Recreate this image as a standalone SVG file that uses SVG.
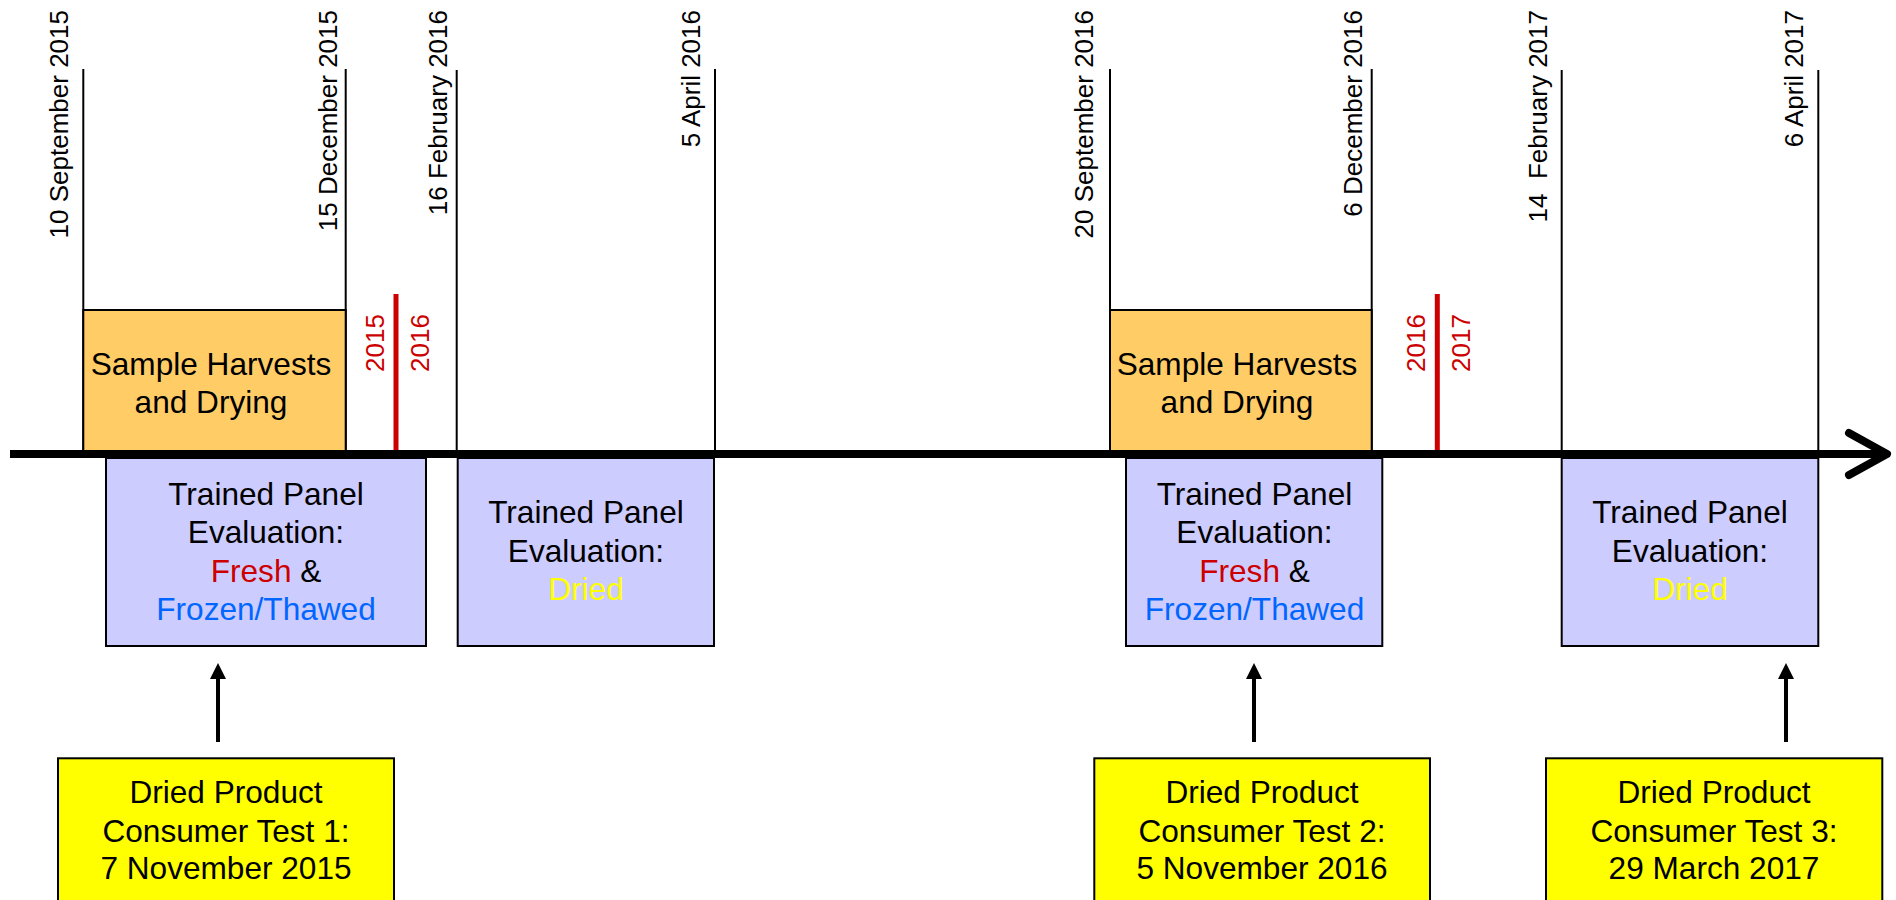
<svg xmlns="http://www.w3.org/2000/svg" width="1896" height="900" viewBox="0 0 1896 900">
  <style>
    text { font-family: "Liberation Sans", Arial, sans-serif; fill: #000; }
    .date { font-size: 26px; }
    .year { font-size: 26px; fill: #CC0000; }
    .lbl { font-size: 31.6px; text-anchor: middle; }
    .tick { stroke: #000; stroke-width: 2; fill: none; }
    .yearline { stroke: #CC0000; stroke-width: 5; }
    .harvest { fill: #FFCC66; stroke: #000; stroke-width: 2; }
    .panel { fill: #CCCCFF; stroke: #000; stroke-width: 2; }
    .consumer { fill: #FFFF00; stroke: #000; stroke-width: 2; }
    .fresh { fill: #CC0000; }
    .frozen { fill: #0066FF; }
    .dried { fill: #FFFF00; }
    .link { stroke: #000; stroke-width: 4; fill: none; }
  </style>
  <defs>
    <marker id="ah" viewBox="0 0 16 16" refX="9" refY="8" markerWidth="16" markerHeight="16" orient="auto" markerUnits="userSpaceOnUse">
      <path d="M0,0 L16,8 L0,16 Z" fill="#000"/>
    </marker>
  </defs>

  <!-- date ticks -->
  <g id="ticks">
    <line class="tick" x1="83.3" y1="69" x2="83.3" y2="454"/>
    <line class="tick" x1="345.7" y1="69" x2="345.7" y2="454"/>
    <line class="tick" x1="456.7" y1="70" x2="456.7" y2="454"/>
    <line class="tick" x1="715" y1="69" x2="715" y2="454"/>
    <line class="tick" x1="1110" y1="69" x2="1110" y2="454"/>
    <line class="tick" x1="1371.7" y1="69" x2="1371.7" y2="454"/>
    <line class="tick" x1="1561.7" y1="70" x2="1561.7" y2="454"/>
    <line class="tick" x1="1818.3" y1="70" x2="1818.3" y2="454"/>
  </g>

  <!-- date labels -->
  <g id="dates" text-anchor="end">
    <text class="date" transform="translate(68.3,10) rotate(-90)">10 September 2015</text>
    <text class="date" transform="translate(336.5,10) rotate(-90)">15 December 2015</text>
    <text class="date" transform="translate(446.7,10) rotate(-90)">16 February 2016</text>
    <text class="date" transform="translate(700,10) rotate(-90)">5 April 2016</text>
    <text class="date" transform="translate(1093.3,10) rotate(-90)">20 September 2016</text>
    <text class="date" transform="translate(1362.3,10) rotate(-90)">6 December 2016</text>
    <text class="date" transform="translate(1546.7,10) rotate(-90)" xml:space="preserve">14  February 2017</text>
    <text class="date" transform="translate(1802.7,10) rotate(-90)">6 April 2017</text>
  </g>

  <!-- year boundaries -->
  <g id="year-2015-2016">
    <line class="yearline" x1="396" y1="294" x2="396" y2="454"/>
    <text class="year" transform="translate(384,372) rotate(-90)">2015</text>
    <text class="year" transform="translate(429,372) rotate(-90)">2016</text>
  </g>
  <g id="year-2016-2017">
    <line class="yearline" x1="1437.3" y1="294" x2="1437.3" y2="454"/>
    <text class="year" transform="translate(1425,372) rotate(-90)">2016</text>
    <text class="year" transform="translate(1470,372) rotate(-90)">2017</text>
  </g>

  <!-- harvest periods -->
  <g id="harvest-2015">
    <rect class="harvest" x="83.3" y="310" width="262.4" height="144"/>
    <text class="lbl" x="211" y="375">Sample Harvests</text>
    <text class="lbl" x="211" y="413">and Drying</text>
  </g>
  <g id="harvest-2016">
    <rect class="harvest" x="1110" y="310" width="261.7" height="144"/>
    <text class="lbl" x="1237" y="375">Sample Harvests</text>
    <text class="lbl" x="1237" y="413">and Drying</text>
  </g>

  <!-- time axis -->
  <g id="axis">
    <line x1="10" y1="454" x2="1884" y2="454" stroke="#000" stroke-width="8"/>
    <polyline points="1849,433 1887,454 1849,475" fill="none" stroke="#000" stroke-width="8" stroke-linecap="round" stroke-linejoin="round"/>
  </g>

  <!-- trained panel evaluations -->
  <g id="panel-1">
    <rect class="panel" x="106" y="458" width="320" height="188"/>
    <text class="lbl" x="266" y="505">Trained Panel</text>
    <text class="lbl" x="266" y="543.3">Evaluation:</text>
    <text class="lbl" x="266" y="581.7"><tspan class="fresh">Fresh</tspan> &amp;</text>
    <text class="lbl frozen" x="266" y="620">Frozen/Thawed</text>
  </g>
  <g id="panel-2">
    <rect class="panel" x="457.7" y="458" width="256.3" height="188"/>
    <text class="lbl" x="586" y="523.3">Trained Panel</text>
    <text class="lbl" x="586" y="561.7">Evaluation:</text>
    <text class="lbl dried" x="586" y="600">Dried</text>
  </g>
  <g id="panel-3">
    <rect class="panel" x="1126" y="458" width="256.3" height="188"/>
    <text class="lbl" x="1254.5" y="505">Trained Panel</text>
    <text class="lbl" x="1254.5" y="543.3">Evaluation:</text>
    <text class="lbl" x="1254.5" y="581.7"><tspan class="fresh">Fresh</tspan> &amp;</text>
    <text class="lbl frozen" x="1254.5" y="620">Frozen/Thawed</text>
  </g>
  <g id="panel-4">
    <rect class="panel" x="1561.7" y="458" width="256.6" height="188"/>
    <text class="lbl" x="1690" y="523.3">Trained Panel</text>
    <text class="lbl" x="1690" y="561.7">Evaluation:</text>
    <text class="lbl dried" x="1690" y="600">Dried</text>
  </g>

  <!-- consumer tests -->
  <g id="consumer-1">
    <rect class="consumer" x="58" y="758.3" width="336" height="160"/>
    <text class="lbl" x="226" y="802.7">Dried Product</text>
    <text class="lbl" x="226" y="841.7">Consumer Test 1:</text>
    <text class="lbl" x="226" y="879.3">7 November 2015</text>
  </g>
  <g id="consumer-2">
    <rect class="consumer" x="1094.3" y="758.3" width="335.7" height="160"/>
    <text class="lbl" x="1262" y="802.7">Dried Product</text>
    <text class="lbl" x="1262" y="841.7">Consumer Test 2:</text>
    <text class="lbl" x="1262" y="879.3">5 November 2016</text>
  </g>
  <g id="consumer-3">
    <rect class="consumer" x="1546" y="758.3" width="336.3" height="160"/>
    <text class="lbl" x="1714" y="802.7">Dried Product</text>
    <text class="lbl" x="1714" y="841.7">Consumer Test 3:</text>
    <text class="lbl" x="1714" y="879.3">29 March 2017</text>
  </g>

  <!-- connectors -->
  <g id="connectors">
    <line class="link" x1="218" y1="742" x2="218" y2="670" marker-end="url(#ah)"/>
    <line class="link" x1="1254" y1="742" x2="1254" y2="670" marker-end="url(#ah)"/>
    <line class="link" x1="1786" y1="742" x2="1786" y2="670" marker-end="url(#ah)"/>
  </g>
</svg>
